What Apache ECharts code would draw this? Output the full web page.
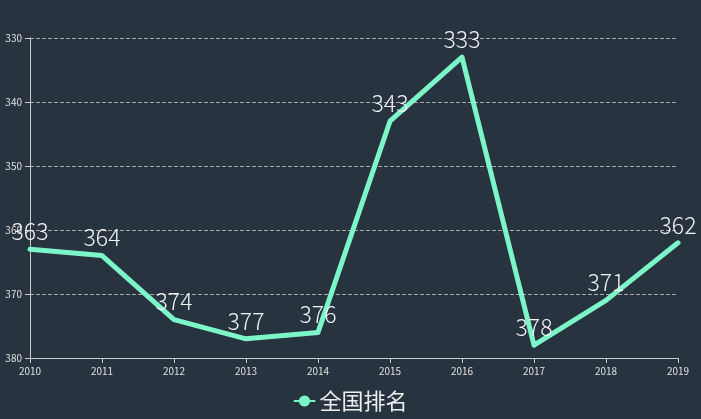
<!DOCTYPE html>
<html><head><meta charset="utf-8">
<script src="https://cdn.jsdelivr.net/npm/echarts@6/dist/echarts.min.js"></script>
<style>html,body{margin:0;padding:0;background:#27333f;}#c{width:701px;height:419px;}</style>
</head><body><div id="c"></div>
<script>
const years = ['2010','2011','2012','2013','2014','2015','2016','2017','2018','2019'];
const ranks = [363,364,374,377,376,343,333,378,371,362];
const seriesName = '全国排名';
const chart = echarts.init(document.getElementById('c'));
chart.setOption({
  backgroundColor:'#27333f',
  animation:false,
  textStyle:{fontFamily:'"Noto Sans CJK SC", "Noto Sans", sans-serif'},
  grid:{left:30,right:23,top:38,bottom:61},
  legend:{data:[seriesName],bottom:2,itemWidth:20,itemHeight:14,itemGap:10,
    textStyle:{color:'#eeeeee',fontSize:22}},
  xAxis:{type:'category',data:years,boundaryGap:false,
    axisLine:{lineStyle:{color:'#cccccc'}},
    axisTick:{lineStyle:{color:'#cccccc'}},
    axisLabel:{color:'#e0e0e0',fontSize:10}},
  yAxis:{type:'value',inverse:true,min:330,max:380,interval:10,
    axisLine:{show:true,lineStyle:{color:'#cccccc'}},
    axisTick:{show:true,lineStyle:{color:'#cccccc'}},
    axisLabel:{color:'#e0e0e0',fontSize:10},
    splitLine:{lineStyle:{color:'#aaaaaa',type:'dashed'}}},
  series:[{name:seriesName,type:'line',data:ranks,smooth:false,showSymbol:true,
    symbol:'circle',symbolSize:1,
    itemStyle:{color:'#7cf5c8'},
    lineStyle:{width:5,color:'#7cf5c8',join:'round',cap:'round'},
    label:{show:true,position:'top',distance:6,color:'#f2f2f2',fontSize:23,fontWeight:300}}]
});
</script></body></html>
